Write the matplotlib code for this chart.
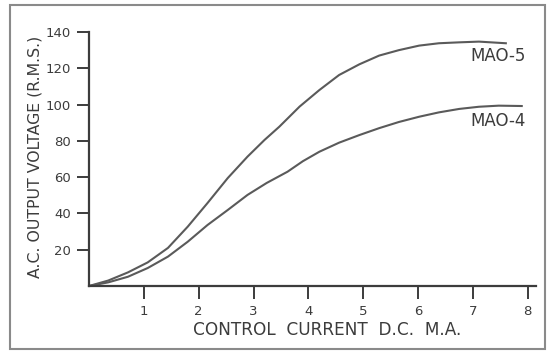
import matplotlib
matplotlib.use('Agg')
import matplotlib.pyplot as plt
from matplotlib.patches import Rectangle

# curve readings (control current mA -> output volts rms)
mao5_x = [0.0, 0.35, 0.71, 1.07, 1.44, 1.8, 2.16, 2.53, 2.89, 3.2, 3.47, 3.84, 4.2, 4.56,
          4.93, 5.29, 5.65, 6.02, 6.38, 6.75, 7.11, 7.6]
mao5_y = [0.0, 3.0, 7.5, 13.0, 21.0, 32.7, 45.7, 59.5, 71.3, 80.5, 87.8, 98.9, 108.0, 116.3,
          122.2, 127.0, 130.0, 132.5, 133.8, 134.3, 134.7, 133.8]
mao4_x = [0.0, 0.35, 0.71, 1.07, 1.44, 1.8, 2.16, 2.53, 2.89, 3.24, 3.62, 3.9, 4.2, 4.56,
          4.93, 5.29, 5.65, 6.02, 6.38, 6.75, 7.11, 7.47, 7.89]
mao4_y = [0.0, 2.0, 5.1, 9.9, 16.2, 24.4, 33.6, 41.9, 50.2, 56.8, 63.0, 68.8, 74.0, 79.0,
          83.2, 87.0, 90.4, 93.3, 95.7, 97.6, 98.8, 99.4, 99.2]

x_ticks = [1, 2, 3, 4, 5, 6, 7, 8]
y_ticks = [20, 40, 60, 80, 100, 120, 140]

ink = '#3c3c3c'
W, H = 549, 351

fig = plt.figure(figsize=(W / 100, H / 100), dpi=100)
ax = fig.add_axes([89 / W, (H - 286) / H, 447 / W, 254 / H])

ax.plot(mao5_x, mao5_y, color='#5a5a5a', linewidth=1.5, solid_joinstyle='round')
ax.plot(mao4_x, mao4_y, color='#5a5a5a', linewidth=1.5, solid_joinstyle='round')

ax.set_xlim(0, 8.15)
ax.set_ylim(0, 140)
ax.set_xticks(x_ticks)
ax.set_yticks(y_ticks)
for s in ['top', 'right']:
    ax.spines[s].set_visible(False)
for s in ['left', 'bottom']:
    ax.spines[s].set_color(ink)
    ax.spines[s].set_linewidth(1.6)
ax.tick_params(direction='out', length=9, width=1.4, color=ink,
               labelcolor=ink, labelsize=9.5)
ax.tick_params(axis='y', pad=4)
ax.tick_params(axis='x', pad=4.5)

ax.text(7.96, 126.5, 'MAO-5', ha='right', va='center', fontsize=12, color=ink)
ax.text(7.96, 91, 'MAO-4', ha='right', va='center', fontsize=12, color=ink)

fig.text(35 / W, 1 - 157 / H, 'A.C. OUTPUT VOLTAGE (R.M.S.)', rotation=90,
         ha='center', va='center', fontsize=11.3, color=ink)
fig.text(327 / W, 1 - 330 / H, 'CONTROL  CURRENT  D.C.  M.A.', ha='center',
         va='center', fontsize=12.2, color=ink)

# outer frame round the figure
fig.patches.append(Rectangle((10 / W, 2 / H), 535 / W, 344 / H, transform=fig.transFigure,
                             fill=False, edgecolor='#8a8a8a', linewidth=1.5))

fig.savefig('out.png', dpi=100)
plt.close(fig)
